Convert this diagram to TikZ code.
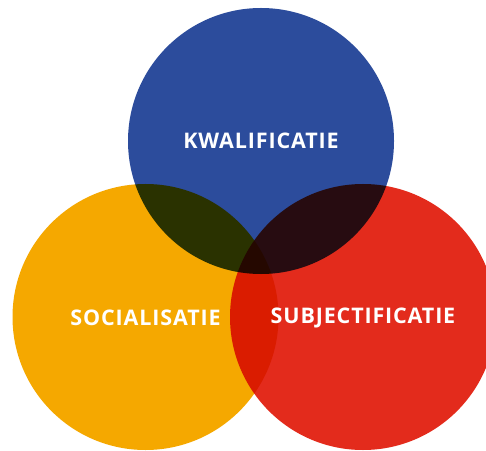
\documentclass[tikz,border=0pt]{standalone}
\usepackage{fontspec}
\setmainfont[LetterSpace=4]{Open Sans}
\definecolor{kwal_blue}{RGB}{44,76,156}
\definecolor{soc_orange}{RGB}{245,168,0}
\definecolor{subj_red}{RGB}{227,43,28}
\begin{document}
\begin{tikzpicture}[x=1pt, y=1pt,
   circle_style/.style={circle, draw=none, minimum size=266pt, inner sep=0pt, blend mode=multiply},
   label_style/.style={text=white, font=\bfseries\fontsize{21.5}{25}\selectfont, inner sep=0pt}]

    \useasboundingbox (0,0) rectangle (486,450);
    \fill[white] (0,0) rectangle (486,450);

    \node[circle_style, fill=kwal_blue] (K) at (261,309) {};
    \node[circle_style, fill=soc_orange] (S) at (145.5,133) {};
    \node[circle_style, fill=subj_red] (J) at (363,133) {};

    \node[label_style] (Ktext) at (K.center) {KWALIFICATIE};
    \node[label_style] (Stext) at ([yshift=-1pt]S.center) {SOCIALISATIE};
    \node[label_style] (Jtext) at ([yshift=-1pt]J.center) {SUBJECTIFICATIE};
\end{tikzpicture}
\end{document}
